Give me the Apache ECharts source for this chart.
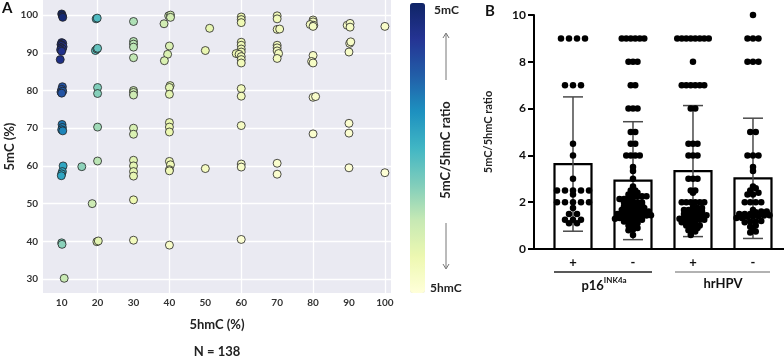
<!DOCTYPE html>
<html>
<head>
<meta charset="utf-8">
<script src="https://cdn.jsdelivr.net/npm/echarts@6/dist/echarts.min.js"></script>
<style>
  html, body { margin: 0; padding: 0; background: #fff; }
  #main { width: 784px; height: 358px; }
</style>
</head>
<body>
<div id="main"></div>
<script>
// ---- panel A: 5hmC (%) vs 5mC (%), coloured by 5mC/5hmC ratio ----
const hmcPct = [
  10, 10.2, 10.3, 10, 10.3, 9.8, 10.1, 10.4, 9.9, 10.2, 9.7, 10, 9.6,
  10.2, 10, 9.8, 10.3, 10, 10.1, 10.2, 10, 10.3, 10.4, 10.2, 10, 9.9, 10, 10.1, 10.7,
  15.6,
  19.6, 19.9, 19.4, 19.8, 20, 20, 20, 20, 20, 18.5, 19.8, 20.2,
  30, 30, 30, 30, 30, 30, 30, 30, 30, 30, 30, 30, 30, 30, 30, 30,
  39.8, 40.3, 40.3, 38.5, 40, 39.5, 38.6, 40.2, 40, 40, 40, 40, 40, 40, 40.3, 40, 40, 40,
  51.2, 50, 50,
  60, 60, 60, 60, 60, 60, 60, 58.6, 59.4, 60, 60, 60, 60, 60, 60, 60, 60, 60,
  70, 70, 70, 70.7, 70, 70, 70, 70.4, 70, 70, 70,
  80, 80, 79.2, 80.2, 80, 80, 79.6, 80, 80, 80.7, 80,
  89.5, 90.3, 90.3, 90.2, 90.5, 90, 90, 90, 90,
  100, 100
];
const mcPct = [
  100.3, 99.8, 99.4, 92.7, 92.5, 92.2, 92, 91.6, 91.3, 91, 90.8, 90.4, 88.2,
  81, 80.3, 79.6, 79.8, 79.3, 71, 70.2, 69.6, 69.3, 60, 58.5, 57.9, 57.4, 39.6, 39.2, 30.2,
  59.8,
  99, 99.2, 90.6, 91, 91.2, 80.8, 79.2, 70.3, 61.3, 50, 39.9, 40.1,
  98.3, 93, 92.3, 91.5, 88.7, 80, 79.5, 78.8, 70, 68.4, 61.5, 60, 58.5, 57.3, 51, 40.3,
  99.8, 100, 99.4, 97.7, 91.8, 89.6, 87.9, 81.3, 80.8, 79, 71.5, 70.3, 69, 61.2, 60.3, 59, 58.7, 39,
  96.5, 90.6, 59.3,
  99.5, 98.8, 98, 92.8, 92, 91, 90.2, 89.8, 89.6, 89, 88.2, 87.3, 80.5, 78.5, 70.7, 60.5, 59.7, 40.5,
  99.8, 99, 96.2, 96.3, 92, 91.3, 90.5, 89.8, 88.5, 60.7, 57.8,
  98.7, 98.2, 97.5, 97.3, 97, 89.3, 87.7, 87.3, 78.2, 78.4, 68.5,
  97.3, 97.8, 96.8, 92.5, 92.9, 90.2, 71.3, 68.7, 59.5,
  97, 58.2
];
const xTicksA = [10, 20, 30, 40, 50, 60, 70, 80, 90, 100];
const xGridA = [20, 40, 60, 80, 100];
const yTicksA = [30, 40, 50, 60, 70, 80, 90, 100];
const ylgnbu = ['#ffffd9', '#edf8b1', '#c7e9b4', '#7fcdbb', '#41b6c4', '#1d91c0', '#225ea8', '#253494', '#0f2466'];

// ---- panel B: 5mC/5hmC ratio by group ----
const groupSigns = ['+', '-', '+', '-'];
const barMeans = [3.63, 2.92, 3.33, 3.02];
const barSD = [2.87, 2.52, 2.8, 2.57];
const p16Pos = [9, 9, 9, 9, 7, 7, 7, 4.5, 4, 3, 2.5, 2.5, 2.5, 2.5, 2.5, 2.33,
  2, 2, 2, 2, 2, 1.75, 1.5, 1.5, 1.25, 1.25, 1.25, 1.1, 1.1];
const p16Neg = [9, 9, 9, 9, 9, 9, 8, 8, 8, 7, 7, 6, 6, 6, 5, 5, 4.5, 4.5, 4, 4, 4, 4,
  3.5, 3.33, 3, 2.67, 2.5, 2.5, 2.4, 2.33, 2.33, 2.25, 2.25, 2.25, 2.2, 2.2, 2.14, 2.14,
  2, 2, 2, 2, 2, 1.9, 1.9, 1.89, 1.86, 1.83,
  1.75, 1.75, 1.71, 1.67, 1.67, 1.67, 1.6, 1.6, 1.57, 1.5, 1.5, 1.5, 1.5, 1.5, 1.44, 1.43,
  1.4, 1.4, 1.38, 1.33, 1.33, 1.33, 1.29, 1.25, 1.25, 1.2, 1.2, 1.17,
  1.1, 1, 1, 0.9, 0.83, 0.8, 0.6];
const hpvPos = [9, 9, 9, 9, 9, 9, 9, 9, 8, 7, 7, 7, 7, 7, 7, 6, 6, 4.5, 4.5, 4.5, 4, 4, 4,
  3, 3, 3, 2.5, 2.5, 2.4, 2, 2, 2, 2, 2, 2,
  1.8, 1.75, 1.75, 1.71, 1.67, 1.67, 1.6, 1.6,
  1.5, 1.5, 1.5, 1.44, 1.43, 1.4, 1.4, 1.33, 1.33, 1.29, 1.25, 1.25, 1.2, 1.2, 1.17, 1.14,
  1, 1, 1, 1, 0.9, 0.8, 0.8, 0.75, 0.6];
const hpvNeg = [10, 9, 9, 9, 8, 8, 8, 5, 5, 4, 4, 4, 3.5, 3.33, 2.67, 2.6, 2.5, 2.4, 2.33, 2.33,
  2, 2, 2, 2, 1.67, 1.6, 1.6, 1.57, 1.5, 1.5, 1.5, 1.44, 1.43, 1.4, 1.4, 1.38, 1.33, 1.33,
  1.2, 1.17, 1.17, 1.14, 1, 0.95, 0.9, 0.75, 0.7];
const groupVals = [p16Pos, p16Neg, hpvPos, hpvNeg];
const dotGap = [8, 4.5, 4.5, 5.5];   // px between dots in a row

const font = 'Lato, "Open Sans", sans-serif';
const pxPerX = 60, pxPerY = 23.4;

// spread dots of one group into centred rows (scatter-dot plot look)
function spreadGroup(vals, gi) {
  const rows = {};
  vals.slice().sort((a, b) => a - b).forEach(v => {
    const key = Math.round(v * pxPerY / 4);
    (rows[key] = rows[key] || []).push(v);
  });
  const out = [];
  Object.values(rows).forEach(row => {
    row.forEach((v, i) => {
      const off = (i - (row.length - 1) / 2) * dotGap[gi];
      out.push([gi + off / pxPerX, v]);
    });
  });
  return out;
}

const scatterA = hmcPct.map((x, i) => [x, mcPct[i], mcPct[i] / x]);
const dotsB = [];
groupVals.forEach((vals, gi) => dotsB.push(...spreadGroup(vals, gi)));
const barData = barMeans.map((m, i) => [i, m, barSD[i]]);

const chart = echarts.init(document.getElementById('main'));

const option = {
  animation: false,
  backgroundColor: '#fff',
  textStyle: { fontFamily: font },
  grid: [
    { left: 43, right: 393, top: 0, bottom: 65, show: true, backgroundColor: '#eaeaf2', borderWidth: 0 },
    { left: 534, right: 0, top: 15, bottom: 109 }
  ],
  xAxis: [
    {
      gridIndex: 0, type: 'value', min: 4.8, max: 101.7,
      name: '5hmC (%)', nameLocation: 'middle', nameGap: 25,
      nameTextStyle: { fontSize: 13, fontWeight: 'bold', color: '#222' },
      axisLine: { show: false },
      axisTick: { show: false, customValues: xGridA },
      axisLabel: { customValues: xTicksA, fontSize: 10, fontWeight: 'bold', color: '#333', margin: 5 },
      splitLine: { show: true, lineStyle: { color: '#fff', width: 1.3 } }
    },
    {
      gridIndex: 1, type: 'value', min: -0.65, max: 3.517,
      axisLine: { show: true, onZero: false, lineStyle: { color: '#000', width: 2 } },
      axisTick: { show: false }, axisLabel: { show: false }, splitLine: { show: false }
    }
  ],
  yAxis: [
    {
      gridIndex: 0, type: 'value', min: 26.3, max: 104,
      name: '5mC (%)', nameLocation: 'middle', nameGap: 27,
      nameTextStyle: { fontSize: 13, fontWeight: 'bold', color: '#222' },
      axisLine: { show: false },
      axisTick: { show: false, customValues: yTicksA },
      axisLabel: { customValues: yTicksA, fontSize: 10, fontWeight: 'bold', color: '#333', margin: 5 },
      splitLine: { show: true, lineStyle: { color: '#fff', width: 1.3 } }
    },
    {
      gridIndex: 1, type: 'value', min: 0, max: 10, interval: 2,
      name: '5mC/5hmC ratio', nameLocation: 'middle', nameGap: 40,
      nameTextStyle: { fontSize: 11, fontWeight: 'bold', color: '#222' },
      axisLine: { show: true, onZero: false, lineStyle: { color: '#000', width: 2 } },
      axisTick: { show: true, length: 6, lineStyle: { color: '#000', width: 2 } },
      axisLabel: { fontSize: 12, fontWeight: 'bold', color: '#111', margin: 8 },
      splitLine: { show: false }
    }
  ],
  visualMap: {
    type: 'continuous', min: 0.5, max: 10, dimension: 2, seriesIndex: 0,
    left: 410, top: 3, itemWidth: 15, itemHeight: 290, padding: 0,
    calculable: false, hoverLink: false, text: null, showLabel: false,
    inRange: { color: ylgnbu }
  },
  series: [
    {
      type: 'scatter', xAxisIndex: 0, yAxisIndex: 0, data: scatterA,
      symbolSize: 8, itemStyle: { borderColor: '#222', borderWidth: 0.8, opacity: 1 }, z: 3
    },
    {
      type: 'custom', xAxisIndex: 1, yAxisIndex: 1, data: barData, z: 2,
      renderItem(params, api) {
        const i = api.value(0), m = api.value(1), s = api.value(2);
        const base = api.coord([i, 0]);
        const top = api.coord([i, m]);
        const hi = api.coord([i, m + s]);
        const lo = api.coord([i, m - s]);
        const bw = 37, cw = 10;
        const err = { stroke: '#4a4a4a', lineWidth: 1.5 };
        return {
          type: 'group',
          children: [
            { type: 'rect', shape: { x: base[0] - bw / 2, y: top[1], width: bw, height: base[1] - top[1] },
              style: { fill: '#fff', stroke: '#000', lineWidth: 2.2 } },
            { type: 'line', shape: { x1: hi[0], y1: hi[1], x2: lo[0], y2: lo[1] }, style: err },
            { type: 'line', shape: { x1: hi[0] - cw, y1: hi[1], x2: hi[0] + cw, y2: hi[1] }, style: err },
            { type: 'line', shape: { x1: lo[0] - cw, y1: lo[1], x2: lo[0] + cw, y2: lo[1] }, style: err },
            { type: 'text', x: base[0], y: base[1] + 14,
              style: { text: groupSigns[i], fill: '#111', font: 'bold 13px ' + font, align: 'center', verticalAlign: 'middle' } }
          ]
        };
      }
    },
    {
      type: 'scatter', xAxisIndex: 1, yAxisIndex: 1, data: dotsB,
      symbolSize: 6.5, itemStyle: { color: '#000', opacity: 1 }, z: 4
    }
  ],
  graphic: [
    { type: 'text', left: 2, top: 1, style: { text: 'A', font: 'bold 15px ' + font, fill: '#111' } },
    { type: 'text', left: 485, top: 4, style: { text: 'B', font: 'bold 15px ' + font, fill: '#111' } },
    { type: 'text', x: 217, y: 352, style: { text: 'N = 138', font: 'bold 13px ' + font, fill: '#222', align: 'center', verticalAlign: 'middle' } },
    { type: 'text', x: 434, y: 10, style: { text: '5mC', font: 'bold 12px ' + font, fill: '#222', verticalAlign: 'middle' } },
    { type: 'text', x: 430, y: 288, style: { text: '5hmC', font: 'bold 12px ' + font, fill: '#222', verticalAlign: 'middle' } },
    { type: 'text', x: 446, y: 150, rotation: Math.PI / 2,
      style: { text: '5mC/5hmC ratio', font: 'bold 13px ' + font, fill: '#222', align: 'center', verticalAlign: 'middle' } },
    { type: 'line', shape: { x1: 446, y1: 80, x2: 446, y2: 34 }, style: { stroke: '#777', lineWidth: 1 } },
    { type: 'polyline', shape: { points: [[443, 38], [446, 33], [449, 38]] }, style: { stroke: '#777', lineWidth: 1, fill: null } },
    { type: 'line', shape: { x1: 446, y1: 223, x2: 446, y2: 268 }, style: { stroke: '#777', lineWidth: 1 } },
    { type: 'polyline', shape: { points: [[443, 264], [446, 269], [449, 264]] }, style: { stroke: '#777', lineWidth: 1, fill: null } },
    { type: 'line', shape: { x1: 554, y1: 272, x2: 652, y2: 272 }, style: { stroke: '#222', lineWidth: 1.5 } },
    { type: 'line', shape: { x1: 675, y1: 272, x2: 770, y2: 272 }, style: { stroke: '#999', lineWidth: 1.5 } },
    { type: 'text', x: 604, y: 284,
      style: { text: '{a|p16}{s|INK4a}', align: 'center', verticalAlign: 'middle',
        rich: { a: { font: 'bold 13px ' + font, fill: '#111', verticalAlign: 'bottom', lineHeight: 16 },
                s: { font: 'bold 8px ' + font, fill: '#111', verticalAlign: 'top', lineHeight: 16 } } } },
    { type: 'text', x: 723, y: 284, style: { text: 'hrHPV', font: 'bold 13px ' + font, fill: '#111', align: 'center', verticalAlign: 'middle' } }
  ]
};

chart.setOption(option);
</script>
</body>
</html>
